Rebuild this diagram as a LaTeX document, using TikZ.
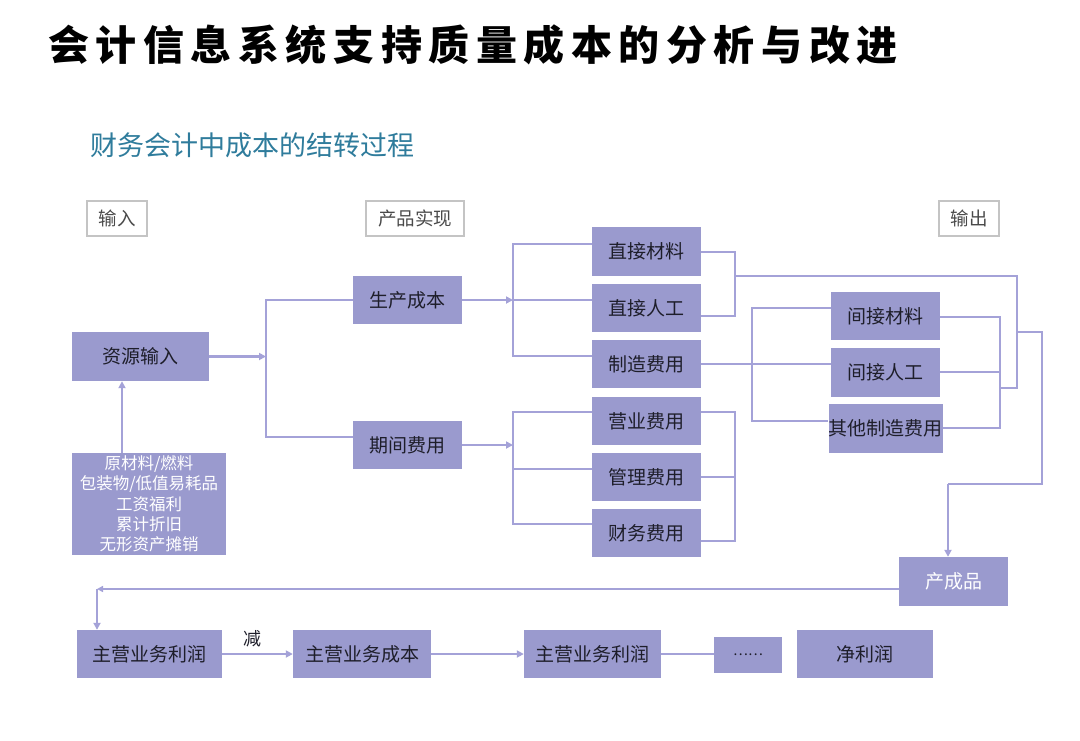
\documentclass[tikz,border=0pt]{standalone}
\usepackage{fontspec}
\usetikzlibrary{arrows.meta}
\newfontfamily\cjk{Noto Sans CJK SC}
\definecolor{boxc}{HTML}{9A9ACE}
\definecolor{linec}{HTML}{A4A2D8}
\definecolor{txtc}{HTML}{1E1E2A}
\definecolor{lblb}{HTML}{C4C4C4}
\definecolor{lbltxt}{HTML}{4A4A4A}
\definecolor{subc}{HTML}{2F7C9C}
\tikzset{
  wh/.style 2 args={minimum width=#1, minimum height=#2},
  box/.style={draw=none, fill=boxc, inner sep=0pt, text=txtc, font=\cjk\fontsize{19}{22}\selectfont, align=center},
  lbl/.style={draw=lblb, line width=1.2pt, fill=white, inner sep=0pt, text=lbltxt, font=\cjk\fontsize{18.5}{21}\selectfont},
  ln/.style={draw=linec, line width=2.2pt},
  arr/.style={ln, -{Triangle[length=7pt,width=7pt]}},
}
\begin{document}
\begin{tikzpicture}[x=1pt,y=-1pt]
\useasboundingbox[fill=white] (0,0) rectangle (1080,740);

% titles
\node[anchor=west, inner sep=0pt, font=\cjk\bfseries\fontsize{41}{44}\selectfont\addfontfeature{LetterSpace=16}] (title) at (48,45) {会计信息系统支持质量成本的分析与改进};
\node[anchor=west, inner sep=0pt, text=subc, font=\cjk\fontsize{27}{30}\selectfont] (sub) at (90,145) {财务会计中成本的结转过程};

% stage labels
\node[lbl, wh={60}{35}] (lin) at (117,218.5) {输入};
\node[lbl, wh={98}{35}] (lcp) at (415,218.5) {产品实现};
\node[lbl, wh={60}{35}] (lout) at (969,218.5) {输出};

% boxes
\node[box, wh={137}{49}] (zyin) at (140.5,356.5) {资源输入};
\node[box, wh={154}{102}, text=white, font=\cjk\fontsize{16.5}{20.3}\selectfont] (yuan) at (149,504) {原材料/燃料\\包装物/低值易耗品\\工资福利\\累计折旧\\无形资产摊销};
\node[box, wh={109}{48}] (scbb) at (407.5,300) {生产成本};
\node[box, wh={109}{48}] (qjfy) at (407.5,445) {期间费用};
\node[box, wh={109}{49}] (zjcl) at (646.5,251.5) {直接材料};
\node[box, wh={109}{48}] (zjrg) at (646.5,308) {直接人工};
\node[box, wh={109}{48}] (zzfy) at (646.5,364) {制造费用};
\node[box, wh={109}{48}] (yyfy) at (646.5,421) {营业费用};
\node[box, wh={109}{48}] (glfy) at (646.5,477) {管理费用};
\node[box, wh={109}{48}] (cwfy) at (646.5,533) {财务费用};
\node[box, wh={109}{48}] (jjcl) at (885.5,316) {间接材料};
\node[box, wh={109}{49}] (jjrg) at (885.5,372.5) {间接人工};
\node[box, wh={109}{49}] (qtzz) at (885.5,428.5) {其他制造费用};
\node[box, wh={109}{49}, text=white] (ccp) at (953.5,581.5) {产成品};
\node[box, wh={145}{48}] (zy1) at (149.5,654) {主营业务利润};
\node[box, wh={138}{48}] (zycb) at (362,654) {主营业务成本};
\node[box, wh={137}{48}] (zy2) at (592.5,654) {主营业务利润};
\node[box, wh={68}{36}, font=\cjk\fontsize{14}{16}\selectfont] (dots) at (748,655) {……};
\node[box, wh={136}{48}] (jlr) at (865,654) {净利润};

% input arrow
\coordinate (a1) at (122,453);
\draw[arr] (a1) -- (a1 |- zyin.south);

% first bracket
\coordinate (b1) at (266,356.5);
\coordinate (b1t) at (266,300);
\coordinate (b1b) at (266,437);
\draw[arr] (zyin.east) -- (b1);
\draw[ln] (scbb.west |- b1t) -- (b1t) -- (b1b) -- (b1b -| qjfy.west);

% production cost bracket
\coordinate (b2) at (513,300);
\coordinate (b2t) at (513,244);
\coordinate (b2b) at (513,356);
\draw[arr] (scbb.east) -- (b2);
\draw[ln] (zjcl.west |- b2t) -- (b2t) -- (b2b) -- (b2b -| zzfy.west);
\draw[ln] (b2) -- (b2 -| zjrg.west);

% period cost bracket
\coordinate (b3) at (513,445);
\coordinate (b3t) at (513,412);
\coordinate (b3m) at (513,469);
\coordinate (b3b) at (513,524);
\draw[arr] (qjfy.east) -- (b3);
\draw[ln] (yyfy.west |- b3t) -- (b3t) -- (b3b) -- (b3b -| cwfy.west);
\draw[ln] (b3m) -- (b3m -| glfy.west);

% direct costs right bracket
\coordinate (r1t) at (735,252);
\coordinate (r1b) at (735,316);
\coordinate (r1m) at (735,276);
\draw[ln] (zjcl.east |- r1t) -- (r1t) -- (r1b) -- (r1b -| zjrg.east);

% overhead split
\coordinate (l2t) at (752,308);
\coordinate (l2b) at (752,421);
\draw[ln] (zzfy.east) -- (zzfy.east -| jjrg.west);
\draw[ln] (jjcl.west |- l2t) -- (l2t) -- (l2b) -- (l2b -| qtzz.west);

% overhead right bracket
\coordinate (r2t) at (1000,317);
\coordinate (r2m) at (1000,372);
\coordinate (r2b) at (1000,428);
\coordinate (r2o) at (1000,388);
\draw[ln] (jjcl.east |- r2t) -- (r2t) -- (r2b) -- (r2b -| qtzz.east);
\draw[ln] (r2m -| jjrg.east) -- (r2m);

% collect to finished goods
\coordinate (c1t) at (1017,276);
\coordinate (c1b) at (1017,388);
\coordinate (c1m) at (1017,332);
\coordinate (c2t) at (1042,332);
\coordinate (c2b) at (1042,484);
\coordinate (c3) at (948,484);
\draw[ln] (r1m) -- (c1t) -- (c1b) -- (r2o);
\draw[ln] (c1m) -- (c2t) -- (c2b) -- (c3);
\draw[arr] (c3) -- (c3 |- ccp.north);

% period costs right bracket
\coordinate (r3t) at (735,412);
\coordinate (r3m) at (735,477);
\coordinate (r3b) at (735,541);
\draw[ln] (yyfy.east |- r3t) -- (r3t) -- (r3b) -- (r3b -| cwfy.east);
\draw[ln] (r3m -| glfy.east) -- (r3m);

% finished goods back to revenue
\coordinate (f1) at (899,589);
\coordinate (f2) at (97,589);
\draw[ln, -{Triangle[length=6pt,width=6pt]}] (f1 -| ccp.west) -- (f2);
\draw[arr] (f2) -- (f2 |- zy1.north);

% bottom row
\draw[arr] (zy1.east) -- (zycb.west);
\node[inner sep=0pt, text=txtc, font=\cjk\fontsize{18}{20}\selectfont] (jian) at (252,639) {减};
\draw[arr] (zycb.east) -- (zy2.west);
\draw[ln] (zy2.east) -- (dots.west |- zy2.east);
\end{tikzpicture}
\end{document}
